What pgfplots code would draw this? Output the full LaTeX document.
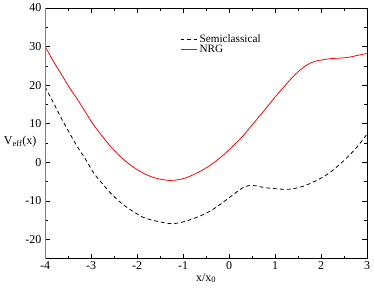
\documentclass[border=0pt]{standalone}
\usepackage{fontspec}
\setmainfont{Liberation Serif}
\usepackage{pgfplots}
\pgfplotsset{compat=1.18}
\begin{document}
\fontsize{12.3}{14}\selectfont
\begin{tikzpicture}
\begin{axis}[
  scale only axis,
  width=330pt, height=257pt,
  xmin=-4, xmax=3, ymin=-25, ymax=40,
  xtick={-4,-3,...,3}, ytick={-20,-10,...,40},
  minor x tick num=1, minor y tick num=1,
  tick align=inside,
  major tick length=5pt, minor tick length=3pt,
  tick style={black, line width=0.6pt},
  axis line style={line width=0.8pt},
  /pgf/number format/assume math mode=true,
  ticklabel style={font=\fontsize{12.3}{14}\selectfont},
  xticklabel style={yshift=1pt},
  yticklabel style={xshift=0.5pt},
  xlabel={x/x\textsubscript{0}},
  every axis x label/.style={at={(axis description cs:0.5,0)}, anchor=base, yshift=-23pt},
  ylabel={V\textsubscript{eff}(x)},
  every axis y label/.style={at={(axis description cs:0,0.467)}, anchor=east, xshift=-4.7pt},
  legend style={draw=none, fill=none, at={(axis description cs:0.41,0.91)}, anchor=north west, font=\fontsize{11.5}{12}\selectfont, row sep=-3pt},
  legend cell align=left,
  legend image code/.code={\draw[#1] (0cm,0cm) -- (0.6cm,0cm);},
]
\addplot[black, line width=0.8pt, dash pattern=on 4pt off 3pt, smooth, tension=0.6] coordinates {
(-4,19.6) (-3.8,15.0) (-3.65,11.5) (-3.45,7.2) (-3.29,3.9) (-3.1,0.4) (-2.94,-2.8) (-2.75,-5.6) (-2.59,-7.8) (-2.4,-10.0) (-2.23,-11.6) (-2.05,-13.0) (-1.88,-14.2) (-1.7,-14.9) (-1.52,-15.4) (-1.26,-15.9) (-1.05,-15.6) (-0.85,-14.9) (-0.606,-13.8) (-0.39,-12.5) (-0.18,-10.8) (0.1,-8.3) (0.3,-6.6) (0.5,-6.0) (0.81,-6.6) (1.23,-7.0) (1.5,-6.6) (1.72,-5.7) (2.0,-4.1) (2.22,-2.4) (2.4,-0.6) (2.58,1.4) (2.8,4.2) (3.0,7.3)
};
\addlegendentry{Semiclassical}
\addplot[red, line width=0.8pt, smooth, tension=0.6] coordinates {
(-4,30) (-3.8,25.8) (-3.65,22.9) (-3.45,19.0) (-3.29,16.2) (-3.1,12.6) (-2.94,9.6) (-2.75,6.7) (-2.59,4.3) (-2.4,1.9) (-2.23,0.1) (-2.05,-1.5) (-1.88,-2.7) (-1.7,-3.7) (-1.52,-4.3) (-1.28,-4.7) (-1.05,-4.4) (-0.85,-3.6) (-0.606,-2.2) (-0.39,-0.6) (-0.15,1.6) (0.1,4.4) (0.3,6.8) (0.455,9.0) (0.65,11.8) (0.81,14.1) (1.0,16.9) (1.16,19.1) (1.35,21.7) (1.515,23.6) (1.7,25.3) (1.87,26.2) (2.05,26.6) (2.22,26.9) (2.4,27.0) (2.58,27.2) (2.75,27.6) (2.9,28.0) (3.0,28.2)
};
\addlegendentry{NRG}
\draw[gray, line width=1.5pt] (rel axis cs:0,0) -- (rel axis cs:0,1);
\end{axis}
\end{tikzpicture}
\end{document}
